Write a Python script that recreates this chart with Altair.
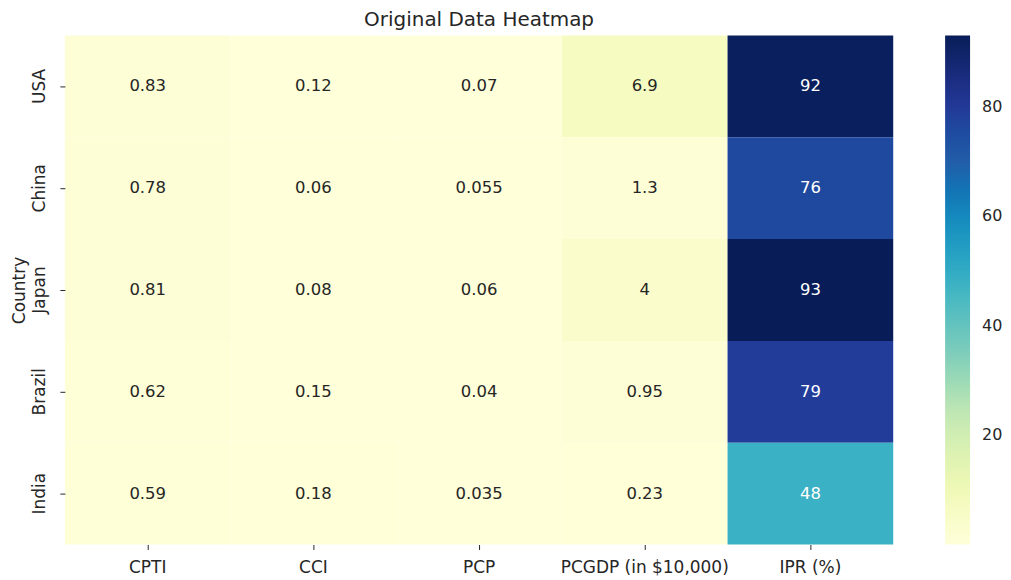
import altair as alt
import pandas as pd

countries = ["USA", "China", "Japan", "Brazil", "India"]
metrics = ["CPTI", "CCI", "PCP", "PCGDP (in $10,000)", "IPR (%)"]
usa = [0.83, 0.12, 0.07, 6.9, 92]
china = [0.78, 0.06, 0.055, 1.3, 76]
japan = [0.81, 0.08, 0.06, 4, 93]
brazil = [0.62, 0.15, 0.04, 0.95, 79]
india = [0.59, 0.18, 0.035, 0.23, 48]
legend_ticks = [20, 40, 60, 80]
# matplotlib YlGnBu colormap stops
ylgnbu = ["#ffffd9", "#edf8b1", "#c7e9b4", "#7fcdbb", "#41b6c4",
          "#1d91c0", "#225ea8", "#253494", "#081d58"]

rows = []
for c, vals in zip(countries, [usa, china, japan, brazil, india]):
    for m, v in zip(metrics, vals):
        rows.append({"Country": c, "Metric": m, "value": v})
df = pd.DataFrame(rows)

FONT = "DejaVu Sans"
TXT = "#262626"
allv = usa + china + japan + brazil + india
vmin, vmax = min(allv), max(allv)
n = len(ylgnbu) - 1
stops = [vmin + (vmax - vmin) * i / n for i in range(n + 1)]

base = alt.Chart(df)

heat = base.mark_rect().encode(
    x=alt.X("Metric:N", sort=metrics, title=None,
            scale=alt.Scale(paddingInner=0, paddingOuter=0),
            axis=alt.Axis(labelAngle=0, tickSize=5, labelPadding=10, domain=False,
                          labelFontSize=17, labelColor=TXT, tickColor=TXT)),
    y=alt.Y("Country:N", sort=countries, title="Country",
            scale=alt.Scale(paddingInner=0, paddingOuter=0),
            axis=alt.Axis(labelAngle=-90, labelAlign="center", labelBaseline="bottom",
                          tickSize=5, labelPadding=11, domain=False, titlePadding=2,
                          labelFontSize=17, labelColor=TXT, tickColor=TXT,
                          titleFontSize=17, titleFontWeight="normal", titleColor=TXT)),
    color=alt.Color("value:Q",
                    scale=alt.Scale(domain=stops, range=ylgnbu),
                    legend=alt.Legend(title=None, orient="right", offset=52,
                                      gradientLength=510, gradientThickness=25,
                                      gradientStrokeWidth=0, values=legend_ticks,
                                      labelFontSize=16, labelOffset=12,
                                      labelColor=TXT, direction="vertical")),
)

text = base.mark_text(fontSize=16.5, font=FONT).encode(
    x=alt.X("Metric:N", sort=metrics),
    y=alt.Y("Country:N", sort=countries),
    text=alt.Text("value:Q", format=".2~g"),
    color=alt.condition(alt.datum.value > 40, alt.value("white"), alt.value(TXT)),
)

chart = (heat + text).properties(
    width=830, height=510,
    title=alt.TitleParams("Original Data Heatmap", fontSize=20, fontWeight="normal",
                          font=FONT, color=TXT, offset=6),
    autosize=alt.AutoSizeParams(type="none"),
    padding={"left": 57, "top": 27, "right": 110, "bottom": 34},
).configure(font=FONT).configure_view(stroke=None).configure_axis(
    labelFont=FONT, titleFont=FONT, grid=False
).configure_legend(labelFont=FONT)

chart.save("out.html", embed_options={"renderer": "svg", "actions": False})
